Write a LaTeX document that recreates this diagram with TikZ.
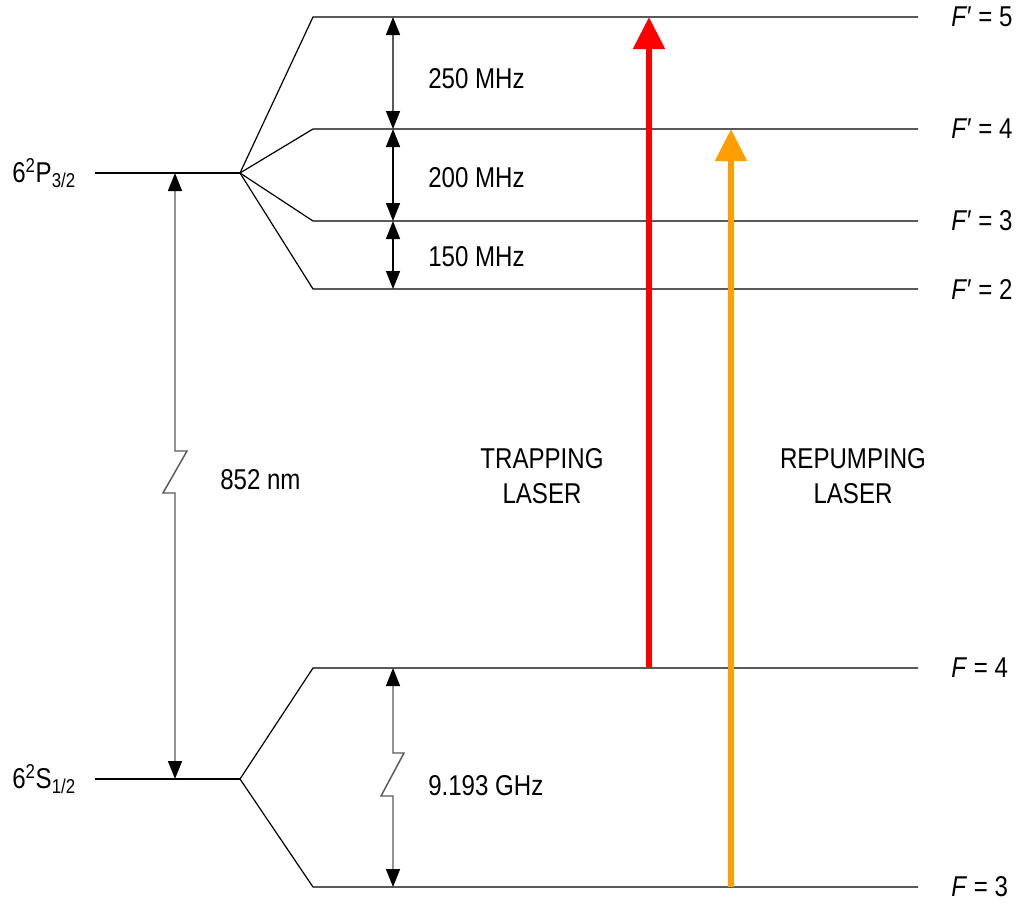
\documentclass[tikz,border=0pt]{standalone}
\usepackage{fontspec}
\setmainfont{Liberation Sans}[FakeStretch=0.84]
\usetikzlibrary{arrows.meta}
\definecolor{trapred}{RGB}{255,0,0}
\definecolor{repumporange}{RGB}{255,158,0}
\tikzset{
  level/.style={black, line width=0.9pt},
  dimline/.style={black!65, line width=1.1pt, {Triangle[length=13.5pt,width=10.5pt,color=black]}-{Triangle[length=13.5pt,width=10.5pt,color=black]}},
  laser/.style={line width=4.5pt, -{Triangle[length=24pt,width=23pt]}},
  lbl/.style={font=\fontsize{21.5}{25}\selectfont, inner sep=0pt},
}
\begin{document}
\begin{tikzpicture}[x=0.75pt, y=-0.75pt]
\useasboundingbox (0,0) rectangle (1019,903);
% fan points and levels
\coordinate (Pl) at (95,173);
\coordinate (Pf) at (240,173);
\coordinate (Sl) at (95,779);
\coordinate (Sf) at (240,779);
\coordinate (F5a) at (313,17);  \coordinate (F5b) at (918,17);
\coordinate (F4a) at (313,129); \coordinate (F4b) at (918,129);
\coordinate (F3a) at (313,221); \coordinate (F3b) at (918,221);
\coordinate (F2a) at (313,289); \coordinate (F2b) at (918,289);
\coordinate (G4a) at (313,668); \coordinate (G4b) at (918,668);
\coordinate (G3a) at (313,887); \coordinate (G3b) at (918,887);

\draw[level] (Pl) -- (Pf);
\draw[level] (Sl) -- (Sf);
\draw[level] (Pf) -- (F5a) -- (F5b);
\draw[level] (Pf) -- (F4a) -- (F4b);
\draw[level] (Pf) -- (F3a) -- (F3b);
\draw[level] (Pf) -- (F2a) -- (F2b);
\draw[level] (Sf) -- (G4a) -- (G4b);
\draw[level] (Sf) -- (G3a) -- (G3b);

% left labels
\node[lbl, anchor=west] (lP) at (12,173) {6\textsuperscript{2}P\textsubscript{3/2}};
\node[lbl, anchor=west] (lS) at (12,779) {6\textsuperscript{2}S\textsubscript{1/2}};

% 852 nm
\coordinate (Pa) at (175,173);
\coordinate (Sa) at (175,779);
\draw[dimline] (Pa) -- (175,451) -- (187,451) -- (163,493) -- (175,493) -- (Sa);
\node[lbl, anchor=west] (nm) at (220,480) {852 nm};

% hyperfine splittings
\coordinate (d5) at (393,17);
\coordinate (d4) at (393,129);
\coordinate (d3) at (393,221);
\coordinate (d2) at (393,289);
\coordinate (e4) at (393,668);
\coordinate (e3) at (393,887);
\draw[dimline] (d5) -- (d4);
\draw[dimline, black] (d4) -- (d3);
\draw[dimline, black] (d3) -- (d2);
\draw[dimline] (e4) -- (393,753) -- (404,753) -- (381,796) -- (393,796) -- (e3);
\node[lbl, anchor=west] (m250) at (428,79) {250 MHz};
\node[lbl, anchor=west] (m200) at (428,178) {200 MHz};
\node[lbl, anchor=west] (m150) at (428,257) {150 MHz};
\node[lbl, anchor=west] (ghz) at (428,786) {9.193 GHz};

% lasers
\coordinate (t0) at (649,668);
\coordinate (t1) at (649,17);
\coordinate (r0) at (731,887);
\coordinate (r1) at (731,129);
\draw[laser, trapred] (t0) -- (t1);
\draw[laser, repumporange] (r0) -- (r1);
\node[lbl, align=center] (trap) at (542,476) {TRAPPING\\[1pt]LASER};
\node[lbl, align=center] (rep) at (853,476) {REPUMPING\\[1pt]LASER};

% right labels
\node[lbl, anchor=west] (f5) at (951,17) {\textit{F}′ = 5};
\node[lbl, anchor=west] (f4) at (951,129) {\textit{F}′ = 4};
\node[lbl, anchor=west] (f3) at (951,221) {\textit{F}′ = 3};
\node[lbl, anchor=west] (f2) at (951,289) {\textit{F}′ = 2};
\node[lbl, anchor=west] (g4) at (951,668) {\textit{F} = 4};
\node[lbl, anchor=west] (g3) at (951,887) {\textit{F} = 3};
\end{tikzpicture}
\end{document}
